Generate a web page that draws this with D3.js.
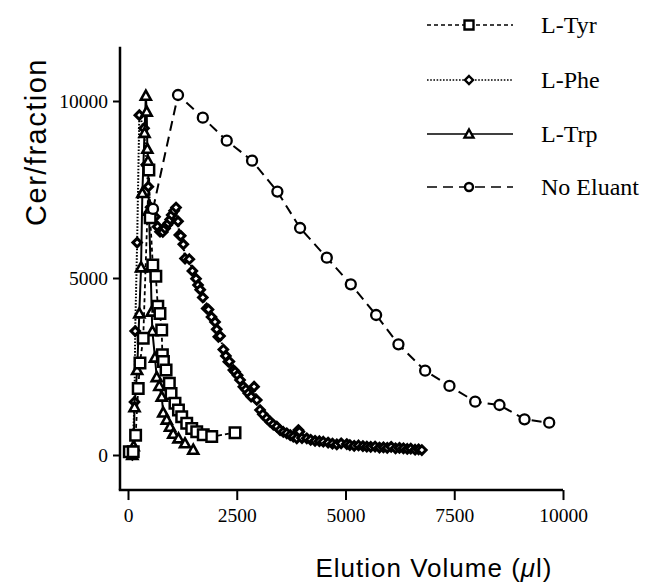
<!DOCTYPE html>
<html>
<head>
<meta charset="utf-8">
<script src="https://cdn.jsdelivr.net/npm/d3@7"></script>
<style>
  html, body { margin: 0; padding: 0; background: #fff; }
  svg { display: block; }
</style>
</head>
<body>
<svg id="chart" width="649" height="585"></svg>
<script>
// ---------- data (Elution volume in µl, Cer/fraction) ----------
const seriesNames = ["L-Tyr", "L-Phe", "L-Trp", "No Eluant"];
const xTicks = [0, 2500, 5000, 7500, 10000];
const yTicks = [0, 5000, 10000];

const tyrX = [30, 120, 175, 235, 275, 350, 480, 510, 570, 640, 685, 735, 775, 790, 815, 875, 950, 990, 1080, 1160, 1235, 1350, 1465, 1580, 1730, 1925, 2460];
const tyrY = [90, 90, 560, 1880, 2600, 3300, 8050, 6700, 5370, 5050, 4200, 4000, 3530, 2830, 2640, 2400, 2030, 1740, 1460, 1270, 1080, 900, 750, 660, 570, 520, 630];

const pheX = [100, 150, 165, 210, 260, 368, 420, 467, 520, 570, 621, 680, 736, 800, 851, 900, 927, 970, 1005, 1060, 1104, 1150, 1180, 1212, 1272, 1311, 1410, 1480, 1564, 1610, 1660, 1720, 1810, 1850, 1920, 2001, 2040, 2077, 2116, 2192, 2250, 2307, 2330, 2422, 2461, 2520, 2576, 2652, 2710, 2767, 2830, 2898, 2960, 3036, 3100, 3190, 3266, 3340, 3420, 3496, 3570, 3650, 3730, 3800, 3880, 3917, 3940, 4000, 4110, 4200, 4300, 4400, 4490, 4600, 4700, 4800, 4900, 5030, 5100, 5200, 5300, 5400, 5490, 5580, 5680, 5780, 5872, 5960, 6050, 6150, 6240, 6332, 6420, 6500, 6600, 6680, 6755];
const pheY = [0, 1500, 3500, 6000, 9600, 9230, 8200, 7580, 7000, 6750, 6730, 6450, 6310, 6300, 6400, 6500, 6545, 6650, 6780, 6900, 6990, 6600, 6215, 6190, 5950, 5550, 5530, 5200, 4980, 4800, 4670, 4450, 4140, 4110, 3900, 3760, 3550, 3340, 3360, 2980, 2800, 2635, 2640, 2400, 2350, 2250, 2120, 1930, 1850, 1743, 1650, 1930, 1554, 1270, 1150, 1037, 940, 860, 800, 706, 650, 613, 560, 520, 470, 706, 660, 480, 470, 430, 400, 390, 375, 350, 320, 300, 330, 310, 280, 260, 270, 250, 235, 230, 240, 210, 217, 200, 230, 190, 200, 190, 170, 180, 150, 160, 140];

const trpX = [100, 130, 150, 210, 260, 300, 330, 380, 410, 430, 445, 460, 480, 520, 545, 560, 620, 660, 720, 775, 810, 890, 965, 1040, 1160, 1310, 1500];
const trpY = [0, 250, 1350, 2400, 4000, 5300, 7400, 9100, 10150, 9700, 8650, 8300, 6900, 5300, 4050, 3500, 2750, 2200, 1950, 1650, 1200, 1000, 800, 600, 470, 330, 150];

const noElX = [575, 1150, 1720, 2270, 2852, 3434, 3956, 4570, 5122, 5704, 6217, 6831, 7390, 7981, 8540, 9115, 9683];
const noElY = [6950, 10170, 9530, 8880, 8315, 7440, 6413, 5574, 4822, 3955, 3127, 2381, 1950, 1506, 1412, 1008, 913];

// ---------- layout ----------
const svg = d3.select("#chart");
const x = d3.scaleLinear().domain([0, 10000]).range([128, 563]);
const y = d3.scaleLinear().domain([0, 10000]).range([455, 101]);
const xAxisStart = -184, yAxisMin = -990, yAxisMax = 11530;

const serif = "'Liberation Serif', 'Times New Roman', serif";
const sans = "'Liberation Sans', Arial, Helvetica, sans-serif";

// axes
const gy = svg.append("g").attr("transform", `translate(${x(xAxisStart)},0)`)
  .call(d3.axisLeft(y).tickValues(yTicks).tickFormat(d3.format("d")).tickSize(7).tickPadding(5));
gy.select(".domain").remove();
gy.selectAll("line").attr("stroke", "#000").attr("stroke-width", 2);
gy.selectAll("text").attr("font-family", serif).attr("font-size", 19.5).attr("fill", "#000");
svg.append("line").attr("x1", x(xAxisStart)).attr("x2", x(xAxisStart))
  .attr("y1", y(yAxisMax)).attr("y2", y(yAxisMin)).attr("stroke", "#000").attr("stroke-width", 2.5);

const gx = svg.append("g").attr("transform", `translate(0,${y(yAxisMin)})`)
  .call(d3.axisBottom(x).tickValues(xTicks).tickFormat(d3.format("d")).tickSize(10).tickPadding(8));
gx.select(".domain").remove();
gx.selectAll("line").attr("stroke", "#000").attr("stroke-width", 2);
gx.selectAll("text").attr("font-family", serif).attr("font-size", 19.5).attr("fill", "#000");
svg.append("line").attr("x1", x(xAxisStart) - 1.2).attr("x2", x(10000))
  .attr("y1", y(yAxisMin)).attr("y2", y(yAxisMin)).attr("stroke", "#000").attr("stroke-width", 2.5);

// axis titles
svg.append("text").attr("transform", "translate(46,142) rotate(-90)")
  .attr("text-anchor", "middle").attr("font-family", sans).attr("font-size", 29)
  .attr("letter-spacing", 1.5).text("Cer/fraction");
const xt = svg.append("text").attr("x", 434).attr("y", 577).attr("text-anchor", "middle")
  .attr("font-family", sans).attr("font-size", 26).attr("letter-spacing", 1);
xt.append("tspan").text("Elution Volume (");
xt.append("tspan").attr("font-style", "italic").text("\u03bc");
xt.append("tspan").text("l)");

// ---------- series ----------
const styles = {
  "L-Tyr": { dash: "4,3", width: 1.8, marker: "square" },
  "L-Phe": { dash: "1.6,1.6", width: 2, marker: "diamond" },
  "L-Trp": { dash: null, width: 2, marker: "triangle" },
  "No Eluant": { dash: "10,6", width: 2, marker: "circle" }
};
const data = {
  "L-Tyr": tyrX.map((v, i) => [v, tyrY[i]]),
  "L-Phe": pheX.map((v, i) => [v, pheY[i]]),
  "L-Trp": trpX.map((v, i) => [v, trpY[i]]),
  "No Eluant": noElX.map((v, i) => [v, noElY[i]])
};

function markerPath(type, s) {
  if (type === "square") return d3.symbol(d3.symbolSquare, s * s)();
  if (type === "diamond") { const h = s / 2; return `M0,${-h}L${h},0L0,${h}L${-h},0Z`; }
  if (type === "triangle") { const h = s / 2; return `M0,${-h}L${h},${h * 0.8}L${-h},${h * 0.8}Z`; }
  if (type === "circle") return d3.symbol(d3.symbolCircle, Math.PI * (s / 2) * (s / 2))();
}
const markerSize = { square: 10.5, diamond: 8.5, triangle: 10, circle: 10 };
const markerStroke = { square: 2.5, diamond: 3, triangle: 2.6, circle: 2.3 };

const line = d3.line().x(d => x(d[0])).y(d => y(d[1]));
const drawOrder = ["L-Phe", "L-Trp", "L-Tyr", "No Eluant"];
drawOrder.forEach(name => {
  const st = styles[name];
  svg.append("path").datum(data[name]).attr("d", line)
    .attr("fill", "none").attr("stroke", "#000").attr("stroke-width", st.width)
    .attr("stroke-dasharray", st.dash);
});
drawOrder.forEach(name => {
  const st = styles[name];
  svg.append("g").selectAll("path").data(data[name]).join("path")
    .attr("d", markerPath(st.marker, markerSize[st.marker]))
    .attr("transform", d => `translate(${x(d[0])},${y(d[1])})`)
    .attr("fill", "#fff").attr("stroke", "#000").attr("stroke-width", markerStroke[st.marker]);
});

// ---------- legend ----------
const legY = [25, 80, 134, 187];
const leg = svg.append("g");
seriesNames.forEach((name, i) => {
  const st = styles[name];
  const g = leg.append("g").attr("transform", `translate(0,${legY[i]})`);
  g.append("line").attr("x1", 427).attr("x2", 513).attr("y1", 0).attr("y2", 0)
    .attr("stroke", "#000").attr("stroke-width", 1.6).attr("stroke-dasharray", st.dash);
  g.append("path").attr("d", markerPath(st.marker, st.marker === "circle" ? 8 : (st.marker === "diamond" ? 8 : 9)))
    .attr("transform", "translate(469,0)")
    .attr("fill", "#fff").attr("stroke", "#000").attr("stroke-width", 2.4);
  g.append("text").attr("x", 541).attr("y", 8).attr("font-family", serif)
    .attr("font-size", 24).attr("fill", "#000").text(name);
});
</script>
</body>
</html>
